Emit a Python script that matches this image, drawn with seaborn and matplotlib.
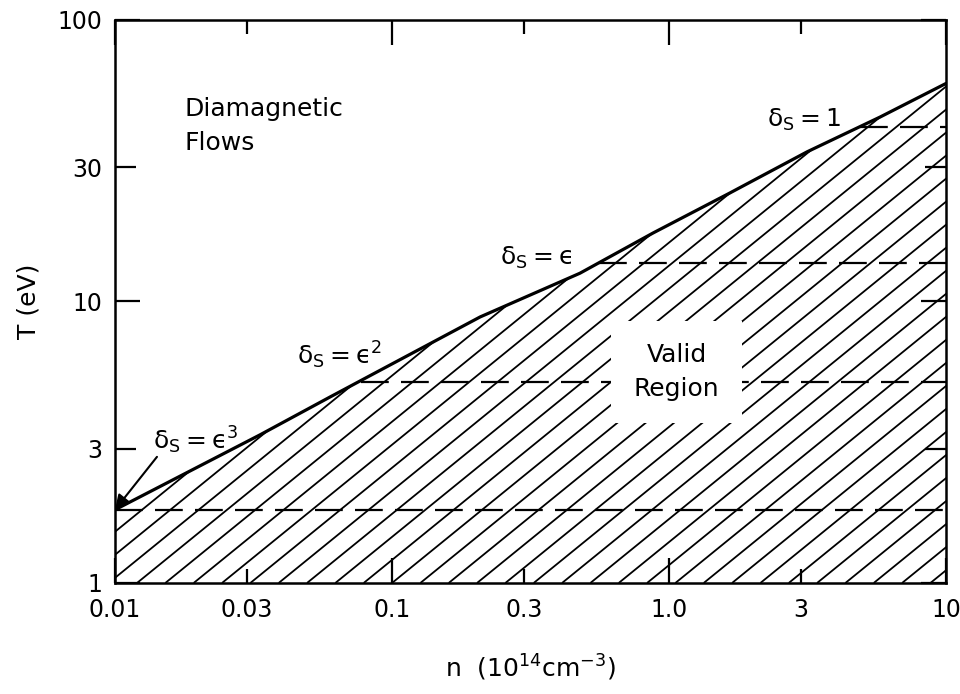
import numpy as np
import pandas as pd
import matplotlib
matplotlib.use('Agg')
import matplotlib.pyplot as plt
from matplotlib.collections import LineCollection
import seaborn as sns

# boundary of the valid region (delta_s = ... curve)
n_boundary = [0.01, 0.0334, 0.0598, 0.208, 0.477, 0.875, 1.66, 3.15, 5.78, 10.0]
T_boundary = [1.82, 3.36, 4.58, 8.81, 12.6, 17.5, 24.3, 34.0, 45.2, 59.5]

# dashed contours: temperature level and density where each one starts
dash_T = [1.82, 5.18, 13.7, 41.7]
dash_start = [0.01, 0.077, 0.56, 4.9]

x_major = [0.01, 0.1, 1.0, 10.0]
x_major_labels = ['0.01', '0.1', '1.0', '10']
x_minor = [0.03, 0.3, 3.0]
x_minor_labels = ['0.03', '0.3', '3']
y_major = [1, 10, 100]
y_major_labels = ['1', '10', '100']
y_minor = [3, 30]
y_minor_labels = ['3', '30']

sns.set_style('ticks')
plt.rcParams['font.family'] = ['DejaVu Sans']
plt.rcParams['mathtext.fontset'] = 'dejavusans'
plt.rcParams['text.color'] = 'black'
plt.rcParams['axes.labelcolor'] = 'black'

fig = plt.figure(figsize=(9.6, 6.94), dpi=100)
ax = fig.add_axes([0.1198, 0.16, 0.8656, 0.8112])

bnd = pd.DataFrame({'n': n_boundary, 'T': T_boundary})
sns.lineplot(data=bnd, x='n', y='T', color='black', lw=2.3, ax=ax, zorder=4)

for T, n0 in zip(dash_T, dash_start):
    sns.lineplot(x=[n0, 10.0], y=[T, T], color='black', lw=1.6,
                 linestyle=(0, (12.5, 5.5)), ax=ax, zorder=3)

ax.set_xscale('log')
ax.set_yscale('log')
ax.set_xlim(0.01, 10)
ax.set_ylim(1, 100)

# hatched valid region: diagonal lines clipped to the area under the curve
region = ax.fill_between(n_boundary, 1, T_boundary, facecolor='none', edgecolor='none')
slope = 1.2
segs = []
for c in np.arange(0.0265 - 40 * 0.0341, 1.2, 0.0341):
    segs.append([(c, 0.0), (c + 1.0 / slope, 1.0)])
hatch = LineCollection(segs, colors='black', linewidths=1.3, transform=ax.transAxes, zorder=2)
ax.add_collection(hatch)
hatch.set_clip_path(region.get_paths()[0], ax.transData)

# ticks
ax.set_xticks(x_major)
ax.set_xticklabels(x_major_labels)
ax.set_xticks(x_minor, minor=True)
ax.set_xticklabels(x_minor_labels, minor=True)
ax.set_yticks(y_major)
ax.set_yticklabels(y_major_labels)
ax.set_yticks(y_minor, minor=True)
ax.set_yticklabels(y_minor_labels, minor=True)
ax.tick_params(which='both', direction='in', top=True, right=True, width=1.6,
               labelsize=17, colors='black')
ax.tick_params(axis='x', which='both', pad=11)
ax.tick_params(axis='y', which='both', pad=9)
ax.tick_params(which='major', length=18)
ax.tick_params(which='minor', length=10)
ax.tick_params(axis='y', which='minor', length=15)
for s in ax.spines.values():
    s.set_linewidth(1.8)
    s.set_color('black')

ax.set_xlabel(r'n  (10$^{14}$cm$^{-3}$)', fontsize=18, labelpad=22)
ax.set_ylabel('T (eV)', fontsize=18, labelpad=12)

# annotations
ax.text(0.084, 0.812, 'Diamagnetic\nFlows', transform=ax.transAxes, fontsize=18,
        ha='left', va='center', linespacing=1.5)
ax.text(0.676, 0.375, 'Valid\nRegion', transform=ax.transAxes, fontsize=18,
        ha='center', va='center', linespacing=1.5, zorder=5,
        bbox=dict(boxstyle='square,pad=0.9', facecolor='white', edgecolor='none'))
ax.text(0.785, 0.822, r'$\mathregular{\delta_S = 1}$', transform=ax.transAxes, fontsize=18,
        ha='left', va='center')
ax.text(0.463, 0.577, r'$\mathregular{\delta_S = ϵ}$', transform=ax.transAxes, fontsize=18,
        ha='left', va='center')
ax.text(0.219, 0.405, r'$\mathregular{\delta_S = ϵ^2}$', transform=ax.transAxes, fontsize=18,
        ha='left', va='center')
ax.text(0.046, 0.254, r'$\mathregular{\delta_S = ϵ^3}$', transform=ax.transAxes, fontsize=18,
        ha='left', va='center')
ax.annotate('', xy=(n_boundary[0], T_boundary[0]), xycoords='data',
            xytext=(0.0505, 0.224), textcoords='axes fraction',
            arrowprops=dict(arrowstyle='-|>', color='black', lw=1.5,
                            mutation_scale=22, shrinkA=0, shrinkB=0), zorder=6)

fig.savefig('out.png', dpi=100)
